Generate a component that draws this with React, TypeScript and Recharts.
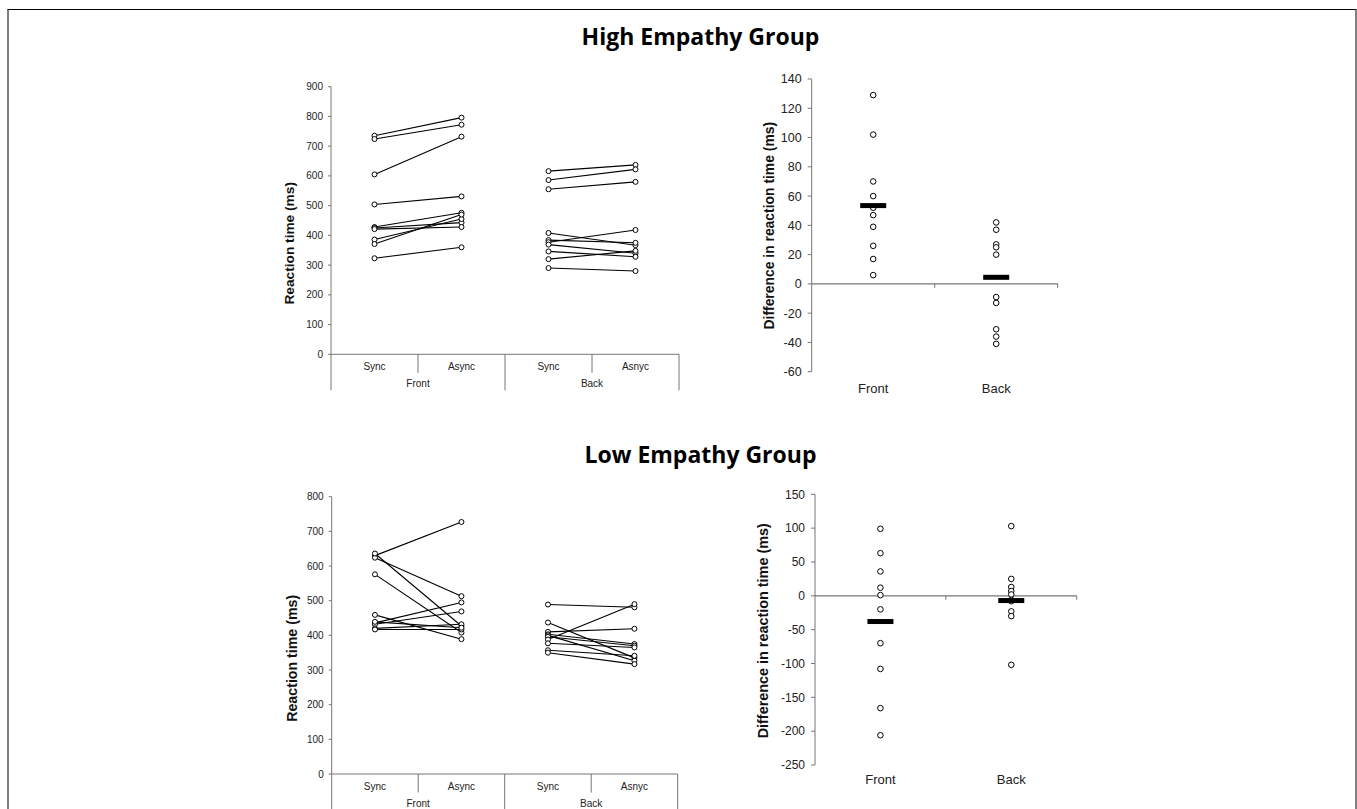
import React from 'react';
import { LineChart, Line, XAxis, YAxis, ScatterChart, Scatter, ReferenceLine } from 'recharts';

// conditions on the reaction-time panels
const conditions = ['Front Sync', 'Front Async', 'Back Sync', 'Back Async'];
const conditionLabels = ['Sync', 'Async', 'Sync', 'Asnyc'];
const locations = ['Front', 'Back'];

// High empathy group: reaction time per participant (ms)
const highFrontSync = [735, 724, 605, 504, 428, 425, 421, 386, 371, 323];
const highFrontAsync = [796, 772, 732, 531, 476, 443, 428, 455, 470, 360];
const highBackSync = [616, 586, 555, 408, 384, 377, 369, 346, 320, 290];
const highBackAsync = [637, 622, 580, 367, 375, 418, 340, 328, 348, 280];

// Low empathy group: reaction time per participant (ms)
const lowFrontSync = [630, 624, 636, 576, 459, 436, 432, 420, 417, 439];
const lowFrontAsync = [727, 513, 427, 408, 389, 495, 469, 432, 417, 422];
const lowBackSync = [489, 437, 410, 403, 400, 396, 388, 377, 357, 350];
const lowBackAsync = [481, 335, 419, 375, 327, 370, 490, 365, 341, 317];

// Difference (Async - Sync) per participant, and group means
const highDiffFront = [129, 102, 70, 60, 52, 47, 39, 26, 17, 6];
const highDiffBack = [42, 37, 27, 25, 20, -9, -13, -31, -36, -41];
const highDiffMeans = [53.5, 4.5];
const lowDiffFront = [99, 63, 36, 12, 1, -20, -70, -108, -166, -206];
const lowDiffBack = [103, 25, 13, 7, 2, -6, -8, -23, -30, -102];
const lowDiffMeans = [-38, -7];

// axis ticks
const highRtTicks = [0, 100, 200, 300, 400, 500, 600, 700, 800, 900];
const lowRtTicks = [0, 100, 200, 300, 400, 500, 600, 700, 800];
const highDiffTicks = [-60, -40, -20, 0, 20, 40, 60, 80, 100, 120, 140];
const lowDiffTicks = [-250, -200, -150, -100, -50, 0, 50, 100, 150];

const FONT = '"Liberation Sans", Arial, sans-serif';
const AXIS_GREY = '#767676';
const TEXT = '#222';

function buildRows(fs: number[], fa: number[], bs: number[], ba: number[]) {
  return conditions.map((cond, c) => {
    const row: Record<string, string | number | null> = { cond };
    fs.forEach((_, i) => {
      row[`f${i}`] = c === 0 ? fs[i] : c === 1 ? fa[i] : null;
      row[`b${i}`] = c === 2 ? bs[i] : c === 3 ? ba[i] : null;
    });
    return row;
  });
}

function AxisTitle({ cx, cy, text, size }: any) {
  return (
    <text
      x={cx}
      y={cy}
      transform={`rotate(-90, ${cx}, ${cy})`}
      textAnchor="middle"
      dominantBaseline="central"
      fontSize={size}
      fontWeight="bold"
      fontFamily={FONT}
      fill="#111"
    >
      {text}
    </text>
  );
}

function CondTick({ x, y, index, half }: any) {
  const isSync = index % 2 === 0;
  return (
    <g>
      <text x={x} y={y + 15.5} textAnchor="middle" fontSize={10} fill={TEXT} fontFamily={FONT}>
        {conditionLabels[index]}
      </text>
      {index === 0 && <line x1={x - half} x2={x - half} y1={y} y2={y + 36} stroke={AXIS_GREY} />}
      <line x1={x + half} x2={x + half} y1={y} y2={y + (isSync ? 18.5 : 36)} stroke={AXIS_GREY} />
      {!isSync && (
        <text x={x - half} y={y + 32.5} textAnchor="middle" fontSize={10} fill={TEXT} fontFamily={FONT}>
          {locations[(index - 1) / 2]}
        </text>
      )}
    </g>
  );
}

function OpenDot({ cx, cy }: any) {
  return <circle cx={cx} cy={cy} r={2.8} fill="#fff" stroke="#000" strokeWidth={1} />;
}

function MeanBar({ cx, cy }: any) {
  return <rect x={cx - 13} y={cy - 2.5} width={26} height={5} fill="#000" />;
}

function ZeroAxis({ x1, y1, x2 }: any) {
  const mid = (x1 + x2) / 2;
  return (
    <g>
      <line x1={x1} x2={x2} y1={y1} y2={y1} stroke={AXIS_GREY} strokeWidth={1.2} />
      <line x1={mid} x2={mid} y1={y1} y2={y1 + 4} stroke={AXIS_GREY} />
      <line x1={x2} x2={x2} y1={y1} y2={y1 + 4} stroke={AXIS_GREY} />
    </g>
  );
}

function RtChart({ left, top, width, height, margin, yWidth, ticks, rows, n, label }: any) {
  const plotW = width - margin.left - margin.right - yWidth;
  const half = plotW / conditions.length / 2;
  const keys: string[] = [];
  for (let i = 0; i < n; i++) keys.push(`f${i}`, `b${i}`);
  return (
    <div style={{ position: 'absolute', left, top }}>
      <LineChart width={width} height={height} data={rows} margin={margin}>
        <XAxis
          dataKey="cond"
          padding={{ left: half, right: half }}
          axisLine={{ stroke: AXIS_GREY }}
          tickLine={false}
          tickSize={0}
          tickMargin={0}
          interval={0}
          height={30}
          tick={(p: any) => <CondTick {...p} half={half} />}
        />
        <YAxis
          type="number"
          domain={[ticks[0], ticks[ticks.length - 1]]}
          ticks={ticks}
          interval={0}
          width={yWidth}
          axisLine={{ stroke: AXIS_GREY }}
          tickLine={{ stroke: AXIS_GREY }}
          tickSize={3}
          tickMargin={5}
          tick={{ fontSize: 10, fill: TEXT, fontFamily: FONT }}
          label={<AxisTitle {...label} text="Reaction time (ms)" />}
        />
        {keys.map((k) => (
          <Line
            key={k}
            dataKey={k}
            stroke="#000"
            strokeWidth={1.1}
            dot={{ r: 2.5, fill: '#fff', stroke: '#000', strokeWidth: 1 }}
            activeDot={false}
            connectNulls={false}
            isAnimationActive={false}
          />
        ))}
      </LineChart>
    </div>
  );
}

function DiffChart({ left, top, width, height, margin, yWidth, ticks, front, back, means, label, tickFont, tickMargin }: any) {
  const frontPts = front.map((value: number) => ({ group: locations[0], value }));
  const backPts = back.map((value: number) => ({ group: locations[1], value }));
  const meanPts = means.map((value: number, i: number) => ({ group: locations[i], value }));
  return (
    <div style={{ position: 'absolute', left, top }}>
      <ScatterChart width={width} height={height} margin={margin}>
        <XAxis
          dataKey="group"
          type="category"
          allowDuplicatedCategory={false}
          axisLine={false}
          tickLine={false}
          tickSize={0}
          tickMargin={tickMargin}
          height={30}
          tick={{ fontSize: 13, fill: TEXT, fontFamily: FONT }}
        />
        <YAxis
          dataKey="value"
          type="number"
          domain={[ticks[0], ticks[ticks.length - 1]]}
          ticks={ticks}
          interval={0}
          width={yWidth}
          axisLine={{ stroke: AXIS_GREY }}
          tickLine={{ stroke: AXIS_GREY }}
          tickSize={4}
          tickMargin={6}
          tick={{ fontSize: tickFont, fill: TEXT, fontFamily: FONT }}
          label={<AxisTitle {...label} text="Difference in reaction time (ms)" />}
        />
        <ReferenceLine y={0} stroke={AXIS_GREY} shape={ZeroAxis} />
        <Scatter data={frontPts} shape={OpenDot} isAnimationActive={false} />
        <Scatter data={backPts} shape={OpenDot} isAnimationActive={false} />
        <Scatter data={meanPts} shape={MeanBar} isAnimationActive={false} />
      </ScatterChart>
    </div>
  );
}

const titleStyle = (top: number): React.CSSProperties => ({
  position: 'absolute',
  left: 500,
  width: 401,
  top,
  textAlign: 'center',
  fontFamily: '"Open Sans", sans-serif',
  fontWeight: 700,
  fontSize: 23,
  lineHeight: '23px',
  color: '#000',
});

export default function App() {
  const highRows = buildRows(highFrontSync, highFrontAsync, highBackSync, highBackAsync);
  const lowRows = buildRows(lowFrontSync, lowFrontAsync, lowBackSync, lowBackAsync);
  return (
    <div style={{ position: 'absolute', left: 0, top: 0, width: 1357, height: 809, overflow: 'hidden', background: '#fff' }}>
      <div
        style={{
          position: 'absolute',
          left: 7,
          top: 9,
          width: 1346,
          height: 820,
          borderTop: '1px solid #000',
          borderLeft: '2px solid #808080',
          borderRight: '2px solid #808080',
        }}
      />
      <div style={titleStyle(24.6)}>High Empathy Group</div>
      <div style={titleStyle(442.6)}>Low Empathy Group</div>

      <RtChart
        left={250}
        top={70}
        width={440}
        height={340}
        margin={{ top: 16.7, right: 11, bottom: 25.7, left: 0 }}
        yWidth={81}
        ticks={highRtTicks}
        rows={highRows}
        n={highFrontSync.length}
        label={{ cx: 40, cy: 173.3, size: 13.7 }}
      />
      <DiffChart
        left={720}
        top={50}
        width={350}
        height={355}
        margin={{ top: 29, right: 12.3, bottom: 3.3, left: 0 }}
        yWidth={91.7}
        ticks={highDiffTicks}
        front={highDiffFront}
        back={highDiffBack}
        means={highDiffMeans}
        label={{ cx: 49.3, cy: 175.7, size: 13.9 }}
        tickFont={12.5}
        tickMargin={12}
      />

      <RtChart
        left={250}
        top={470}
        width={440}
        height={339}
        margin={{ top: 26.7, right: 12.3, bottom: 5, left: 0 }}
        yWidth={81.7}
        ticks={lowRtTicks}
        rows={lowRows}
        n={lowFrontSync.length}
        label={{ cx: 41.7, cy: 188.3, size: 14.2 }}
      />
      <DiffChart
        left={720}
        top={470}
        width={370}
        height={339}
        margin={{ top: 24.3, right: 13.3, bottom: 14, left: 0 }}
        yWidth={95}
        ticks={lowDiffTicks}
        front={lowDiffFront}
        back={lowDiffBack}
        means={lowDiffMeans}
        label={{ cx: 43.3, cy: 160.8, size: 14.4 }}
        tickFont={12}
        tickMargin={9.5}
      />
    </div>
  );
}
